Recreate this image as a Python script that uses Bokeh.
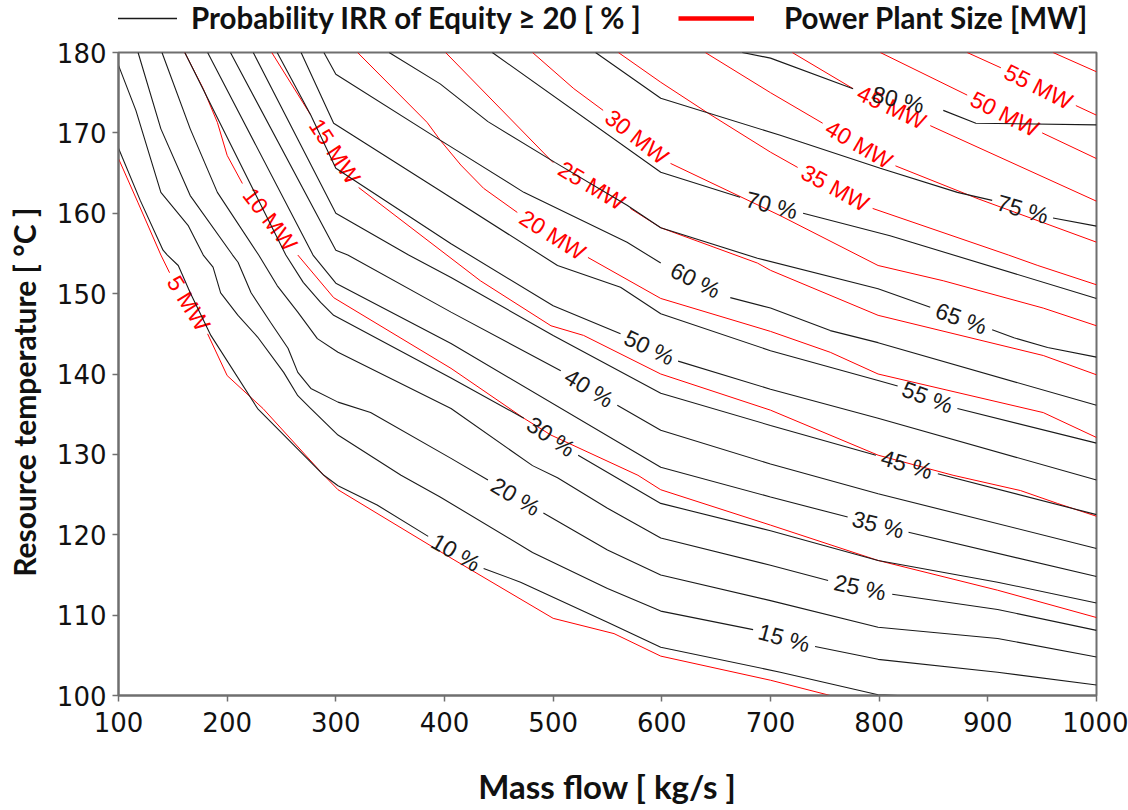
import math
from bokeh.plotting import figure
from bokeh.layouts import column
from bokeh.models import Range1d, FixedTicker, Legend, LegendItem
from bokeh.embed import file_html
from bokeh.resources import INLINE
from bokeh.core.properties import value

# ---------------- data (mass flow [kg/s], temperature [°C]); None = label gap ----------------
X_TICKS = [100, 200, 300, 400, 500, 600, 700, 800, 900, 1000]
Y_TICKS = [100, 110, 120, 130, 140, 150, 160, 170, 180]

PROB_LEVELS = [10, 15, 20, 25, 30, 35, 40, 45, 50, 55, 60, 65, 70, 75, 80]

P10_X = [100, 120, 141, 145, 155, 166, 185, 228, 289, 302, 338, 385, None, 436, 470, 550, 599, 709, 799, 817]
P10_Y = [168.1, 161.6, 155.4, 154.8, 153.5, 150.1, 144.8, 135.7, 127.4, 126.1, 123.7, 119.8, None, 115.8, 114.1, 109.1, 106.0, 102.9, 100.1, 100.0]
P15_X = [100, 116, 139, 164, 178, 187, 194, 210, 228, 252, 265, 277, 302, 360, 396, 481, 550, 599, 684, None, 741, 799, 909, 1000]
P15_Y = [178.4, 172.8, 162.6, 158.5, 154.8, 153.3, 150.1, 147.3, 144.6, 140.2, 137.3, 135.7, 132.4, 127.4, 124.7, 117.8, 113.3, 110.5, 108.2, None, 106.1, 104.5, 102.9, 101.3]
P20_X = [118, 139, 166, 205, 210, 222, 240, 256, 265, 277, 302, 332, 406, 440, None, 491, 550, 599, 700, 799, 909, 1000]
P20_Y = [180, 170.5, 162.2, 154.8, 153.9, 150.1, 146.4, 143.2, 140.2, 138.2, 136.5, 135.2, 129.5, 126.8, None, 122.7, 118.1, 115.0, 111.8, 108.5, 107.1, 104.8]
P25_X = [140, 166, 191, 229, 246, 265, 283, 302, 406, 481, 504, 550, 599, 700, 753, None, 812, 909, 1000]
P25_Y = [180, 170.5, 162.6, 154.8, 151.0, 147.7, 144.4, 142.7, 135.7, 128.6, 127.1, 123.3, 119.6, 116.2, 114.3, None, 112.6, 110.7, 108.1]
P30_X = [161, 254, 270, 286, 298, 406, 473, None, 523, 599, 700, 799, 909, 1000]
P30_Y = [180, 154.8, 151.4, 148.9, 147.3, 139.5, 134.5, None, 129.9, 123.9, 120.5, 116.8, 114.1, 111.5]
P35_X = [182, 279, 300, 406, 599, 700, 771, None, 827, 1000]
P35_Y = [180, 154.8, 151.3, 143.8, 128.4, 124.7, 122.2, None, 120.3, 114.8]
P40_X = [203, 300, 311, 406, 507, None, 559, 599, 700, 799, 1000]
P40_Y = [180, 155.4, 154.8, 147.7, 140.4, None, 136.1, 133.0, 128.8, 125.1, 118.3]
P45_X = [224, 300, 367, 406, 500, 599, 700, 797, None, 854, 1000]
P45_Y = [180, 160.0, 154.8, 152.0, 144.8, 137.6, 133.6, 129.9, None, 127.6, 122.5]
P50_X = [246, 277, 300, 406, 500, 562, None, 615, 700, 799, 1000]
P50_Y = [180, 172.2, 165.6, 156.2, 148.5, 145.0, None, 141.6, 138.1, 134.5, 126.8]
P55_X = [268, 298, 396, 504, 562, 599, 700, 799, 817, None, 872, 1000]
P55_Y = [180, 171.2, 162.8, 153.5, 150.8, 147.5, 142.9, 139.2, 138.5, None, 135.7, 131.4]
P60_X = [289, 300, 396, 473, 568, 599, None, 663, 700, 755, 799, 1000]
P60_Y = [180, 177.3, 169.1, 162.6, 156.4, 153.8, None, 149.5, 148.2, 145.4, 143.9, 136.1]
P65_X = [349, 396, 440, 502, 568, 599, 688, 799, 847, None, 904, 924, 955, 1000]
P65_Y = [180, 176.1, 171.4, 166.3, 161.0, 158.2, 154.4, 150.6, 148.3, None, 145.5, 144.5, 143.3, 142.1]
P70_X = [444, 599, 672, None, 730, 810, 1000]
P70_Y = [180, 165.1, 162.0, None, 160.0, 157.2, 149.4]
P75_X = [539, 599, 709, 801, 872, 904, None, 960, 1000]
P75_Y = [180, 174.3, 169.7, 165.6, 162.6, 161.6, None, 159.4, 158.4]
P80_X = [674, 700, 776, None, 859, 889, 1000]
P80_Y = [180, 179.3, 175.5, None, 172.8, 171.2, 171.0]

MW_LEVELS = [5, 10, 15, 20, 25, 30, 35, 40, 45, 50, 55, 60]

MW5_X = [100, 118, 139, 147, None, 182, 200, 233, 289, 302, 406, 500, 556, 599, 700, 755]
MW5_Y = [166.8, 161.3, 154.8, 152.6, None, 145.0, 139.8, 135.7, 127.4, 125.6, 117.1, 109.6, 107.7, 104.9, 101.9, 100]
MW10_X = [161, 178, 191, 200, 214, None, 265, 298, 406, 473, 498, 578, 599, 700, 799, 909, 1000]
MW10_Y = [180, 175.5, 171.3, 167.2, 163.7, None, 154.8, 149.5, 140.7, 134.5, 132.4, 127.4, 125.6, 121.2, 116.8, 113.1, 109.7]
MW15_X = [241, 277, None, 321, 406, 433, 498, 528, 599, 700, 799, 868, 930, 964, 1000]
MW15_Y = [180, 172.2, None, 163.2, 154.4, 151.6, 146.0, 144.8, 140.0, 135.5, 129.9, 127.4, 125.5, 123.9, 122.3]
MW20_X = [320, 384, 396, 415, 436, 467, None, 532, 599, 700, 755, 799, 951, 1000]
MW20_Y = [180, 171.3, 169.1, 166.0, 163.1, 160.1, None, 154.5, 149.4, 145.3, 142.7, 140.0, 135.2, 132.1]
MW25_X = [401, 500, None, 571, 599, 688, 700, 799, 951, 1000]
MW25_Y = [180, 166.3, None, 160.6, 158.2, 153.8, 152.9, 147.3, 142.3, 139.9]
MW30_X = [481, 519, 546, None, 608, 709, 799, 859, 951, 1000]
MW30_Y = [180, 175.5, 172.8, None, 166.2, 159.7, 153.5, 151.6, 148.2, 146.0]
MW35_X = [560, 599, 642, 700, 725, None, 794, 919, 946, 1000]
MW35_Y = [180, 176.3, 172.5, 167.6, 165.7, None, 160.6, 154.8, 153.5, 151.1]
MW40_X = [640, 700, 748, None, 815, 891, 1000]
MW40_Y = [180, 175.0, 171.2, None, 165.9, 161.8, 156.4]
MW45_X = [720, 776, None, 847, 1000]
MW45_Y = [180, 175.5, None, 170.9, 161.5]
MW50_X = [801, 881, None, 950, 1000]
MW50_Y = [180, 174.7, None, 170.0, 166.8]
MW55_X = [881, 912, None, 981, 1000]
MW55_Y = [180, 178.1, None, 173.4, 172.2]
MW60_X = [960, 1000]
MW60_Y = [180, 177.6]

PROB_LINES = [(P10_X, P10_Y), (P15_X, P15_Y), (P20_X, P20_Y), (P25_X, P25_Y), (P30_X, P30_Y),
              (P35_X, P35_Y), (P40_X, P40_Y), (P45_X, P45_Y), (P50_X, P50_Y), (P55_X, P55_Y),
              (P60_X, P60_Y), (P65_X, P65_Y), (P70_X, P70_Y), (P75_X, P75_Y), (P80_X, P80_Y)]
MW_LINES = [(MW5_X, MW5_Y), (MW10_X, MW10_Y), (MW15_X, MW15_Y), (MW20_X, MW20_Y), (MW25_X, MW25_Y),
            (MW30_X, MW30_Y), (MW35_X, MW35_Y), (MW40_X, MW40_Y), (MW45_X, MW45_Y), (MW50_X, MW50_Y),
            (MW55_X, MW55_Y), (MW60_X, MW60_Y)]

LEGEND_LABELS = ["Probability IRR of Equity \u2265 20 [ % ]", "Power Plant Size [MW]"]

# ---------------- main figure ----------------
FW, FH = 978, 643
X0, X1, Y0, Y1 = 100, 1000, 100, 180
SX = FW / (X1 - X0)
SY = FH / (Y1 - Y0)
BLACK, RED, AXIS = "#1a1a1a", "#ff0000", "#6f6f6f"

p = figure(frame_width=FW, frame_height=FH,
           x_range=Range1d(X0, X1), y_range=Range1d(Y0, Y1),
           output_backend="svg", toolbar_location=None,
           min_border_left=118, min_border_right=32, min_border_top=16, min_border_bottom=115)
p.xgrid.visible = False
p.ygrid.visible = False
p.outline_line_color = AXIS
p.outline_line_width = 2
p.background_fill_color = "white"
p.border_fill_color = "white"


def nanify(v):
    return [float("nan") if a is None else a for a in v]


def gap_label(xs, ys):
    if None not in xs:
        return None
    i = xs.index(None)
    x1, y1, x2, y2 = xs[i - 1], ys[i - 1], xs[i + 1], ys[i + 1]
    ang = math.atan2((y2 - y1) * SY, (x2 - x1) * SX)
    return (x1 + x2) / 2, (y1 + y2) / 2, ang


def draw(lines, levels, color, suffix, width):
    lx, ly, la, lt = [], [], [], []
    for (xs, ys), lev in zip(lines, levels):
        p.line(nanify(xs), nanify(ys), line_color=color, line_width=width)
        g = gap_label(xs, ys)
        if g:
            lx.append(g[0]); ly.append(g[1]); la.append(g[2]); lt.append(f"{lev} {suffix}")
    p.text(x=lx, y=ly, text=lt, angle=la, text_align="center", text_baseline="middle",
           text_font=value("Liberation Sans"), text_font_size="23px", text_color=color)


draw(MW_LINES, MW_LEVELS, RED, "MW", 1.0)
draw(PROB_LINES, PROB_LEVELS, BLACK, "%", 1.1)

for ax in (p.xaxis[0], p.yaxis[0]):
    ax.axis_line_color = AXIS
    ax.axis_line_width = 2
    ax.major_tick_line_color = AXIS
    ax.major_tick_line_width = 1.5
    ax.major_tick_out = 6
    ax.major_tick_in = 0
    ax.minor_tick_line_color = None
    ax.major_label_text_font = "DejaVu Sans"
    ax.major_label_text_font_size = "26px"
    ax.major_label_text_color = "#111111"
    ax.axis_label_text_font = "Lato"
    ax.axis_label_text_font_style = "bold"
    ax.axis_label_text_color = "#111111"

p.xaxis.axis_label_text_font_size = "33px"
p.yaxis.axis_label_text_font_size = "30px"
p.xaxis.ticker = FixedTicker(ticks=X_TICKS)
p.yaxis.ticker = FixedTicker(ticks=Y_TICKS)
p.xaxis.axis_label = "Mass flow [ kg/s ]"
p.yaxis.axis_label = "Resource temperature [ \u00b0C ]" + "\u00a0" * 5
p.xaxis.major_label_standoff = 10
p.yaxis.major_label_standoff = 6
p.xaxis.axis_label_standoff = 31
p.yaxis.axis_label_standoff = 12

# ---------------- legend strip above the plot ----------------
lf = figure(width=1128, height=36, x_range=Range1d(0, 1), y_range=Range1d(0, 1),
            x_axis_type=None, y_axis_type=None, output_backend="svg", toolbar_location=None,
            min_border_left=0, min_border_right=0, min_border_top=0, min_border_bottom=0)
lf.outline_line_color = None
lf.grid.visible = False
lf.background_fill_color = "white"
lf.border_fill_color = "white"
nan = float("nan")
leg_black = lf.line(x=[nan], y=[nan], line_color=BLACK, line_width=1.6)
leg_red = lf.line(x=[nan], y=[nan], line_color=RED, line_width=4.5)

common = dict(orientation="horizontal", label_text_font="Lato", label_text_font_style="bold",
              label_text_font_size="29.5px", label_text_color="#111111",
              glyph_width=76, glyph_height=26, border_line_color=None,
              background_fill_alpha=0, padding=0, margin=0)
legend_a = Legend(items=[LegendItem(label=LEGEND_LABELS[0], renderers=[leg_black])],
                  location=(-17, 1), label_standoff=14, **common)
legend_b = Legend(items=[LegendItem(label=LEGEND_LABELS[1], renderers=[leg_red])],
                  location=(560, 1), label_standoff=30, **common)
lf.add_layout(legend_a)
lf.add_layout(legend_b)

layout = column(lf, p, spacing=0)
open("out.html", "w").write(file_html(layout, INLINE))
